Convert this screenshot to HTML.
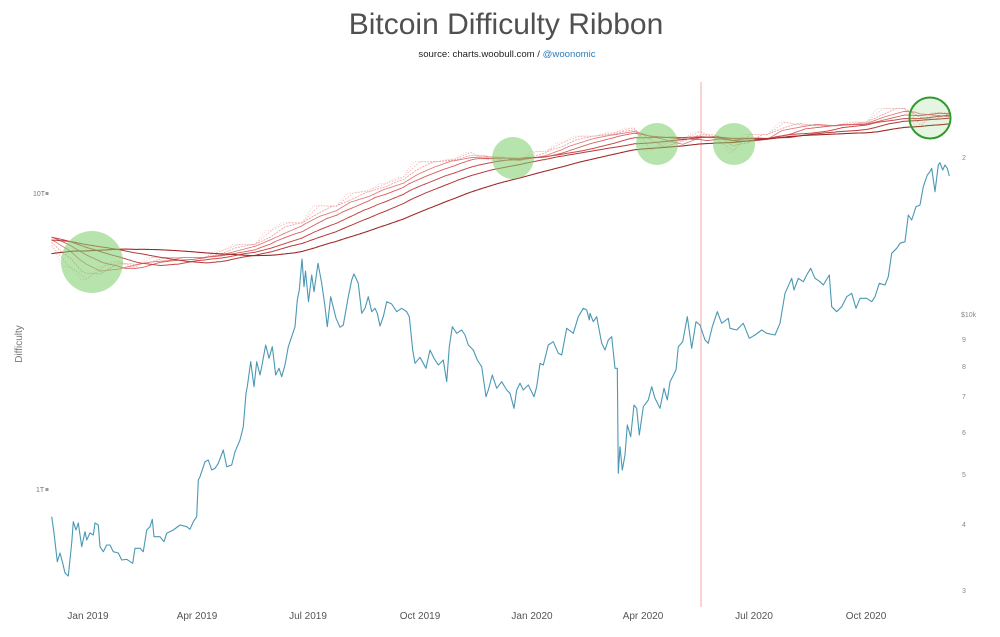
<!DOCTYPE html>
<html>
<head>
<meta charset="utf-8">
<style>
  html,body{margin:0;padding:0;background:#fff;}
  svg{display:block;font-family:"Liberation Sans",sans-serif;}
</style>
</head>
<body>
<svg id="c" width="1000" height="637" viewBox="0 0 1000 637" xmlns="http://www.w3.org/2000/svg">
  <rect x="0" y="0" width="1000" height="637" fill="#fff"/>
  <text x="506" y="34" text-anchor="middle" font-size="30" fill="#505050">Bitcoin Difficulty Ribbon</text>
  <text x="507" y="57" text-anchor="middle" font-size="9.6" fill="#222">source: charts.woobull.com / <tspan fill="#2b7bb9">@woonomic</tspan></text>

  <!-- left axis -->
  <text x="33" y="196" font-size="7" fill="#777">10T</text>
  <rect x="45.5" y="192" width="3" height="3" fill="#999"/>
  <text x="36" y="492" font-size="7" fill="#777">1T</text>
  <rect x="45.5" y="488" width="3" height="3" fill="#999"/>
  <text transform="translate(22,344) rotate(-90)" text-anchor="middle" font-size="10" fill="#777">Difficulty</text>

  <!-- right axis -->
  <g font-size="7" fill="#888">
    <text x="962" y="160">2</text>
    <text x="961" y="317">$10k</text>
    <text x="962" y="342">9</text>
    <text x="962" y="369">8</text>
    <text x="962" y="399">7</text>
    <text x="962" y="435">6</text>
    <text x="962" y="477">5</text>
    <text x="962" y="527">4</text>
    <text x="962" y="593">3</text>
  </g>

  <!-- x axis -->
  <g font-size="10" fill="#555" text-anchor="middle">
    <text x="88" y="619">Jan 2019</text>
    <text x="197" y="619">Apr 2019</text>
    <text x="308" y="619">Jul 2019</text>
    <text x="420" y="619">Oct 2019</text>
    <text x="532" y="619">Jan 2020</text>
    <text x="643" y="619">Apr 2020</text>
    <text x="754" y="619">Jul 2020</text>
    <text x="866" y="619">Oct 2020</text>
  </g>

  <!-- halving line -->
  <line x1="701" y1="82" x2="701" y2="607" stroke="#f2a8a8" stroke-width="1"/>

  <g id="ribbon" fill="none"></g>

  <polyline id="price" fill="none" stroke="#4a98b4" stroke-width="1.1" stroke-linejoin="round" points=""/>

  <!-- circles -->
  <g fill="#7ccc6a" fill-opacity="0.55">
    <circle cx="92" cy="262" r="31"/>
    <circle cx="513" cy="158" r="21"/>
    <circle cx="657" cy="144" r="21"/>
    <circle cx="734" cy="144" r="21"/>
  </g>
  <circle cx="930" cy="118" r="20.5" fill="#7ccc6a" fill-opacity="0.2" stroke="#2f9a2f" stroke-width="2"/>
</svg>
<script>
(function(){
  var NS="http://www.w3.org/2000/svg";
  var P=[[51.7,516.7],[54,533],[57.3,561.7],[60,553],[62.7,563],[65,573],[68.3,576],[71.7,543],[73.3,521.7],[76,530],[78.3,523],[81.7,546.7],[85,531.7],[86.7,540],[90,533],[93.3,535],[95,523],[98.3,525],[100,546.7],[103.3,551.7],[106.7,545],[110,545],[113.3,551.7],[118.3,553],[121.7,560],[126.7,559.3],[132.7,563.3],[135,548.3],[140,548.3],[143.3,551.7],[146.7,530],[150,526.7],[152.3,519.3],[154,536.7],[160,536.7],[164,541.7],[166.7,533.3],[173.3,530],[180,525],[186.7,526.7],[190,529.3],[193.3,521.7],[196.7,516.7],[198.3,480],[200,476.7],[205,461.7],[208.3,460],[211.7,470],[215,468.3],[218.3,463.3],[223.3,450],[226.7,466.7],[231.7,465],[235,451.7],[240,440],[243.3,426.7],[246,393.3],[247.3,386.7],[250.7,361.7],[254,386.7],[256.7,361.7],[260,375],[261.7,366.7],[265.7,345],[269,358.3],[272.3,346.7],[275.7,375],[279,368.3],[281.7,376.7],[285,365],[288.3,346.7],[291.7,336.7],[295,326.7],[297.3,300],[299.3,290],[302,259],[304,286.7],[305.5,271],[308.5,301.7],[311.7,275],[314,291.7],[318,263.3],[321.7,283.3],[325,306.7],[327.3,326.7],[330.7,296.7],[336,318.3],[340,327.3],[343.3,325],[348.3,296.7],[351.7,280],[354,274],[358.3,283.3],[361.7,313.3],[365,308.3],[368.3,296.7],[371.7,311.7],[375,308.3],[377.3,313.3],[380,326],[383.3,316.7],[386.7,301.7],[391.7,304],[396.7,311.7],[401.7,308.3],[406.7,311.7],[409.3,316.7],[412.7,350],[415,363.3],[420,357.3],[426,368.3],[430,350],[434,358.3],[438.3,365],[443.3,360],[446.7,381.7],[449.3,346.7],[452.3,326.7],[456.7,333.3],[461.7,330],[465,335],[468.3,345],[473.3,350],[477.3,360],[481.7,366.7],[486,396.7],[488.3,390],[492.3,375],[496.7,388.3],[501.7,381.7],[506.7,390],[510,393.3],[514,408.3],[516.7,390],[520,383.3],[523.3,390],[528.3,385],[534,396.7],[536.7,386.7],[540,363.3],[543.3,365],[548.3,345],[553.3,341.7],[558.3,353.3],[561.7,355],[566.7,328.3],[573.3,333.3],[578.3,316.7],[583.3,308.3],[586.7,310],[589.3,320],[590,313.3],[593.3,321.7],[596.7,316.7],[601.7,343.3],[605,350],[608.3,340],[611.7,336.7],[615,368.3],[617.3,368.3],[618.3,473.3],[620,446.7],[622.3,470],[625,455],[627.3,425],[630.7,436.7],[634,405],[636.7,408.3],[639.3,435],[643.3,406.7],[648.3,400],[651.7,386.7],[655,398.3],[660,408.3],[664,388.3],[667.3,400],[670,381.7],[676,370],[678.3,346.7],[682.7,341.7],[687.3,316.7],[691.7,348.3],[696,321.7],[700,325],[705,340],[708.3,343.3],[712.3,326.7],[717.3,311.7],[721.7,323.3],[728.3,318.3],[730,328.3],[736.7,330],[743.3,323.3],[749.3,338.3],[755,335],[761.7,330],[766.7,333.3],[775,335],[780,323.3],[785,293.3],[791.7,278.3],[794,290],[798.3,278.3],[803.3,281.7],[806.7,275],[810.7,268.3],[815,278.3],[820,281.7],[823.3,285],[829.3,275],[831.7,306.7],[836.7,311.7],[841.7,306.7],[846.7,296.7],[851.7,293.3],[856,308.3],[860,298.3],[866.7,298.3],[871.7,301.7],[875,296.7],[879.3,283.3],[885,285],[888.3,276.7],[891.7,253.3],[896.7,248.3],[900,243.3],[905,241.7],[908.3,215],[911.7,220],[916,206.7],[920,205],[923.3,186.7],[927.3,175],[930,171.7],[931.7,168.3],[935,191.7],[938.3,165],[940,162.7],[942.7,170],[945,165],[947.3,168.3],[949.3,176]];
  document.getElementById('price').setAttribute('points',P.map(function(p){return p[0]+','+p[1];}).join(' '));

  var S=[[-500,3.0],[-290,3.29],[-283,3.51],[-267,3.84],[-253,4.14],[-224,4.31],[-209,4.94],[-195,5.08],[-181,5.36],[-168,5.95],[-153,6.39],[-140,6.73],[-125,6.90],[-112,7.15],[-83,7.45],[-69,7.18],[-46,6.65],[-29,5.65],[-14,5.11],[0,5.62],[12,5.88],[26,5.62],[40,6.06],[97,6.38],[111,6.70],[138,7.46],[151,7.93],[177,9.06],[192,9.01],[205,9.99],[219,10.18],[232,10.77],[246,11.3],[260,12.76],[288,13.01],[302,13.69],[316,12.97],[329,12.88],[356,13.8],[377,14.78],[391,15.55],[417,15.95],[433,16.55],[450,13.91],[463,14.72],[476,15.14],[490,16.10],[505,15.14],[519,13.73],[531,15.78],[560,17.35],[574,16.95],[588,16.85],[616,17.35],[641,19.31],[655,19.31],[672,16.85],[685,18.67],[700,18.6]];
  function diff(d){var v=S[0][1];for(var i=0;i<S.length;i++){if(S[i][0]<=d)v=S[i][1];else break;}return v;}
  var d0=-260,d1=710,D={};
  for(var d=d0;d<=d1;d++)D[d]=diff(d);
  function ma(d,w){var s=0;for(var k=0;k<w;k++)s+=D[d-k];return s/w;}
  var Y0=193,K=296;
  function yv(v){return Y0-K*Math.log(v/10)/Math.LN10;}
  function xd(d){return 88+d*444/365;}
  var W=[[200,'#9e2a2a',1.1,null],[128,'#b53535',1.0,null],[90,'#c84646',1.0,null],[60,'#d65d5d',0.9,null],[40,'#e07c7c',0.9,null],[25,'#e99a9a',0.8,'2,1'],[14,'#efb0b0',0.8,'1.5,1.5'],[9,'#f3c2c2',0.8,'1,1.5']];
  var g=document.getElementById('ribbon');
  var ds=-30.4, de=708;
  W.slice().reverse().forEach(function(w){
    var pts=[];
    for(var d=Math.ceil(ds);d<=de;d++){pts.push(xd(d).toFixed(1)+','+yv(ma(d,w[0])).toFixed(1));}
    var pl=document.createElementNS(NS,'polyline');
    pl.setAttribute('points',pts.join(' '));
    pl.setAttribute('stroke',w[1]);
    pl.setAttribute('stroke-width',w[2]);
    if(w[3])pl.setAttribute('stroke-dasharray',w[3]);
    g.appendChild(pl);
  });
})();
</script>
</body>
</html>
